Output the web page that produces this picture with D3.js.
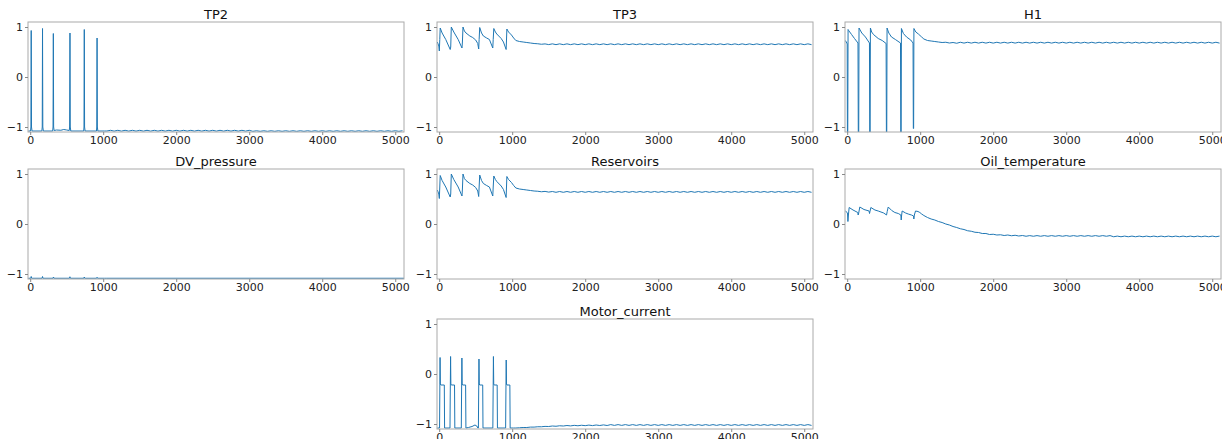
<!DOCTYPE html>
<html>
<head>
<meta charset="utf-8">
<script src="https://cdn.jsdelivr.net/npm/d3@7"></script>
<style>
  html, body { margin: 0; padding: 0; background: #fff; }
  svg { display: block; font-family: "DejaVu Sans", sans-serif; }
</style>
</head>
<body>
<svg id="chart" width="1222" height="439"></svg>
<script>
// ---------- DATA ----------
const titles = ["TP2", "TP3", "H1", "DV_pressure", "Reservoirs", "Oil_temperature", "Motor_current"];
const xTicks = [0, 1000, 2000, 3000, 4000, 5000];
const yTicks = [-1, 0, 1];
const yTickLabels = ["\u22121", "0", "1"];
const tailStart = 1050, tailStep = 50;

// head segments: [x, value] (0 .. ~1020)
const tp2Head = [[-25,-1.08],[5,-1.08],[10,-1.0],[14,0.93],[18,-1.0],[25,-1.08],
  [160,-1.08],[165,-1.0],[169,0.97],[173,-1.0],[180,-1.08],
  [308,-1.08],[313,-1.0],[317,0.87],[321,-1.0],[328,-1.07],[360,-1.06],[420,-1.065],[460,-1.05],[500,-1.06],[535,-1.07],
  [540,-1.0],[545,0.88],[549,-1.0],[556,-1.08],
  [733,-1.08],[737,-1.0],[741,0.95],[745,-1.0],[752,-1.08],
  [908,-1.08],[912,-1.0],[916,0.78],[920,-1.0],[927,-1.08],[1020,-1.08]];
const tp2Tail = [
  -1.08,-1.066,-1.082,-1.066,-1.082,-1.066,-1.082,-1.066,-1.082,-1.066,
  -1.082,-1.066,-1.082,-1.066,-1.082,-1.066,-1.082,-1.066,-1.082,-1.066,
  -1.082,-1.066,-1.082,-1.066,-1.082,-1.066,-1.082,-1.066,-1.082,-1.066,
  -1.082,-1.066,-1.082,-1.066,-1.082,-1.066,-1.082,-1.066,-1.082,-1.066,
  -1.086,-1.075,-1.086,-1.075,-1.086,-1.075,-1.086,-1.075,-1.086,-1.075,
  -1.086,-1.075,-1.086,-1.075,-1.086,-1.075,-1.086,-1.075,-1.086,-1.075,
  -1.086,-1.075,-1.086,-1.075,-1.086,-1.075,-1.086,-1.075,-1.086,-1.075,
  -1.086,-1.075,-1.086,-1.075,-1.086,-1.075,-1.086,-1.075,-1.086,-1.075,
  -1.086,-1.075];

const tp3Head = [[-25,0.70],[-5,0.62],[2,0.52],[8,0.75],[14,0.98],[40,0.88],[90,0.75],[151,0.55],[158,0.6],[166,1.0],
  [200,0.9],[260,0.75],[312,0.58],[318,0.7],[326,1.0],[345,0.92],[367,0.88],[420,0.82],[459,0.79],[500,0.74],[528,0.67],
  [541,0.56],[547,0.75],[555,0.99],[580,0.88],[605,0.82],[650,0.78],[688,0.75],[734,0.58],[740,0.75],[748,0.97],
  [770,0.9],[789,0.86],[849,0.77],[880,0.7],[917,0.55],[921,0.7],[927,0.96],[950,0.9],[990,0.84],[1020,0.78]];
const tp3Tail = [
  0.73,0.71,0.70,0.69,0.68,0.67,0.665,0.655,0.662,0.648,
  0.663,0.647,0.663,0.647,0.663,0.647,0.663,0.647,0.663,0.647,
  0.663,0.647,0.663,0.647,0.663,0.647,0.663,0.647,0.663,0.647,
  0.663,0.647,0.663,0.647,0.663,0.647,0.663,0.647,0.663,0.647,
  0.663,0.647,0.663,0.647,0.663,0.647,0.663,0.647,0.663,0.647,
  0.663,0.647,0.663,0.647,0.663,0.647,0.663,0.647,0.663,0.647,
  0.663,0.647,0.663,0.647,0.663,0.647,0.663,0.647,0.663,0.647,
  0.663,0.647,0.663,0.647,0.663,0.647,0.663,0.647,0.663,0.647,
  0.663,0.647];

const h1Head = [[-25,0.73],[-5,0.68],[0,0.66],[3,-1.1],[8,-1.1],[12,0.95],[20,0.93],[60,0.85],[100,0.77],[148,0.68],
  [152,-1.1],[158,-1.1],[162,0.98],[200,0.88],[250,0.8],[305,0.68],[309,-1.1],[314,-1.1],[318,0.98],[335,0.9],
  [360,0.85],[425,0.77],[480,0.73],[533,0.67],[537,-1.1],[542,-1.1],[546,0.98],[570,0.88],[607,0.8],[660,0.75],
  [730,0.68],[734,-1.1],[739,-1.1],[743,0.97],[770,0.87],[813,0.8],[870,0.74],[902,0.68],[906,-1.03],[910,-1.03],
  [914,0.97],[940,0.9],[975,0.86],[1020,0.8]];
const h1Tail = [
  0.76,0.73,0.72,0.71,0.70,0.69,0.695,0.68,0.69,0.675,
  0.695,0.678,0.695,0.678,0.695,0.678,0.695,0.678,0.695,0.678,
  0.695,0.678,0.695,0.678,0.695,0.678,0.695,0.678,0.695,0.678,
  0.695,0.678,0.695,0.678,0.695,0.678,0.695,0.678,0.695,0.678,
  0.695,0.678,0.695,0.678,0.695,0.678,0.695,0.678,0.695,0.678,
  0.695,0.678,0.695,0.678,0.695,0.678,0.695,0.678,0.695,0.678,
  0.695,0.678,0.695,0.678,0.695,0.678,0.695,0.678,0.695,0.678,
  0.695,0.678,0.695,0.678,0.695,0.678,0.695,0.678,0.695,0.678,
  0.695,0.678];

const dvHead = [[-25,-1.085],[8,-1.085],[14,-1.05],[20,-1.085],[163,-1.085],[169,-1.05],[175,-1.085],
  [313,-1.085],[319,-1.06],[325,-1.085],[538,-1.085],[544,-1.055],[550,-1.085],[735,-1.085],[741,-1.06],
  [747,-1.085],[910,-1.085],[916,-1.065],[922,-1.085],[1020,-1.085]];
const dvTail = [-1.085];

const resHead = [[-25,0.68],[-5,0.6],[2,0.51],[8,0.74],[14,0.97],[40,0.87],[90,0.74],[151,0.54],[158,0.6],[166,1.0],
  [200,0.89],[260,0.74],[312,0.56],[318,0.7],[326,1.0],[345,0.91],[367,0.87],[420,0.81],[459,0.78],[500,0.73],[528,0.66],
  [541,0.55],[547,0.74],[555,0.98],[580,0.87],[605,0.81],[650,0.77],[688,0.74],[734,0.56],[740,0.74],[748,0.96],
  [770,0.89],[789,0.85],[849,0.76],[880,0.69],[917,0.53],[921,0.7],[927,0.95],[950,0.89],[990,0.83],[1020,0.77]];
const resTail = [
  0.72,0.70,0.69,0.68,0.67,0.66,0.655,0.645,0.652,0.638,
  0.65,0.634,0.65,0.634,0.65,0.634,0.65,0.634,0.65,0.634,
  0.65,0.634,0.65,0.634,0.65,0.634,0.65,0.634,0.65,0.634,
  0.65,0.634,0.65,0.634,0.65,0.634,0.65,0.634,0.65,0.634,
  0.65,0.634,0.65,0.634,0.65,0.634,0.65,0.634,0.65,0.634,
  0.65,0.634,0.65,0.634,0.65,0.634,0.65,0.634,0.65,0.634,
  0.65,0.634,0.65,0.634,0.65,0.634,0.65,0.634,0.65,0.634,
  0.65,0.634,0.65,0.634,0.65,0.634,0.65,0.634,0.65,0.634,
  0.65,0.634];

const oilHead = [[-25,0.26],[0,0.23],[5,0.2],[10,0.05],[18,0.2],[27,0.33],[80,0.28],[145,0.23],[150,0.18],[155,0.2],
  [173,0.34],[230,0.29],[300,0.26],[306,0.21],[312,0.25],[324,0.33],[380,0.28],[425,0.26],[500,0.22],[539,0.18],
  [548,0.25],[562,0.34],[610,0.27],[653,0.23],[700,0.21],[735,0.18],[740,0.08],[746,0.18],[753,0.26],[800,0.22],
  [836,0.2],[880,0.18],[909,0.16],[913,0.1],[920,0.18],[936,0.26],[970,0.25],[995,0.23],[1020,0.2]];
const oilTail = [
  0.17,0.13,0.10,0.08,0.05,0.03,0.0,-0.02,-0.05,-0.07,
  -0.095,-0.11,-0.135,-0.145,-0.165,-0.17,-0.19,-0.19,-0.21,-0.205,
  -0.22,-0.215,-0.23,-0.22,-0.235,-0.225,-0.24,-0.23,-0.245,-0.232,
  -0.245,-0.232,-0.245,-0.232,-0.245,-0.232,-0.245,-0.232,-0.245,-0.232,
  -0.245,-0.232,-0.245,-0.232,-0.245,-0.232,-0.245,-0.232,-0.245,-0.232,
  -0.245,-0.232,-0.255,-0.242,-0.255,-0.242,-0.255,-0.242,-0.255,-0.242,
  -0.255,-0.242,-0.255,-0.242,-0.255,-0.242,-0.255,-0.242,-0.255,-0.242,
  -0.255,-0.242,-0.255,-0.242,-0.255,-0.242,-0.255,-0.242,-0.255,-0.242,
  -0.255,-0.242];

const motorHead = [[-25,-1.08],[5,-1.08],[8,-0.5],[12,0.33],[16,-0.2],[22,-0.22],[70,-0.22],[74,-1.08],
  [148,-1.08],[151,-0.5],[156,0.35],[160,-0.2],[166,-0.22],[210,-0.22],[214,-1.08],
  [303,-1.08],[306,-0.5],[311,0.32],[315,-0.2],[321,-0.22],[362,-0.22],[366,-1.08],[400,-1.07],[450,-1.05],
  [490,-1.02],[515,-1.04],[530,-1.08],
  [537,-1.08],[540,-0.5],[545,0.3],[549,-0.2],[555,-0.22],[596,-0.22],[600,-1.08],
  [735,-1.08],[738,-0.5],[743,0.35],[747,-0.2],[753,-0.22],[794,-0.22],[798,-1.08],
  [910,-1.08],[913,-0.5],[918,0.28],[922,-0.2],[928,-0.22],[968,-0.22],[972,-1.08],[1020,-1.08]];
const motorTail = [
  -1.08,-1.075,-1.07,-1.07,-1.062,-1.062,-1.055,-1.055,-1.048,-1.05,
  -1.04,-1.045,-1.035,-1.04,-1.03,-1.038,-1.027,-1.035,-1.025,-1.033,
  -1.022,-1.032,-1.02,-1.03,-1.018,-1.03,-1.012,-1.028,-1.012,-1.028,
  -1.012,-1.028,-1.012,-1.028,-1.012,-1.028,-1.012,-1.028,-1.012,-1.028,
  -1.012,-1.028,-1.012,-1.028,-1.012,-1.028,-1.012,-1.028,-1.012,-1.028,
  -1.012,-1.028,-1.012,-1.028,-1.012,-1.028,-1.012,-1.028,-1.012,-1.028,
  -1.012,-1.028,-1.012,-1.028,-1.012,-1.028,-1.012,-1.028,-1.012,-1.028,
  -1.012,-1.028,-1.012,-1.028,-1.012,-1.028,-1.012,-1.028,-1.012,-1.028,
  -1.012,-1.028];

// ---------- LAYOUT ----------
const colX = [28, 437, 845];
const rowY = [22, 169, 319];
const pw = 376, ph = 110;
const layout = [[0,0],[0,1],[0,2],[1,0],[1,1],[1,2],[2,1]];
const heads = [tp2Head, tp3Head, h1Head, dvHead, resHead, oilHead, motorHead];
const tails = [tp2Tail, tp3Tail, h1Tail, dvTail, resTail, oilTail, motorTail];

const svg = d3.select("#chart");
const x = d3.scaleLinear().domain([-30, 5120]).range([0, pw]);
const y = d3.scaleLinear().domain([-1.1, 1.1]).range([ph, 0]);
const line = d3.line().x(d => x(d[0])).y(d => y(d[1]));

titles.forEach((t, i) => {
  const [r, c] = layout[i];
  const g = svg.append("g").attr("transform", `translate(${colX[c]},${rowY[r]})`);
  const data = heads[i].concat(tails[i].map((v, k) => [tailStart + k * tailStep, v]));
  if (i === 3) data.push([5120, -1.085]);

  g.append("clipPath").attr("id", "clip" + i)
    .append("rect").attr("width", pw).attr("height", ph);

  g.append("path").datum(data)
    .attr("d", line)
    .attr("fill", "none")
    .attr("stroke", "#1f77b4")
    .attr("stroke-width", 1)
    .attr("stroke-linejoin", "round")
    .attr("clip-path", `url(#clip${i})`);

  g.append("rect").attr("width", pw).attr("height", ph)
    .attr("fill", "none").attr("stroke", "#aaaaaa").attr("stroke-width", 1);

  const ax = g.append("g").attr("transform", `translate(0,${ph})`)
    .call(d3.axisBottom(x).tickValues(xTicks).tickFormat(d3.format("d")).tickSize(3).tickPadding(1));
  const ay = g.append("g")
    .call(d3.axisLeft(y).tickValues(yTicks).tickFormat((d, k) => yTickLabels[k]).tickSize(3).tickPadding(2));
  [ax, ay].forEach(a => {
    a.select(".domain").remove();
    a.selectAll("line").attr("stroke", "#888");
    a.selectAll("text").attr("font-size", 11).attr("fill", "#222")
      .attr("font-family", "DejaVu Sans, sans-serif");
  });

  g.append("text").attr("x", pw / 2).attr("y", -3)
    .attr("text-anchor", "middle").attr("font-size", 13).attr("fill", "#111")
    .text(t);
});
</script>
</body>
</html>
